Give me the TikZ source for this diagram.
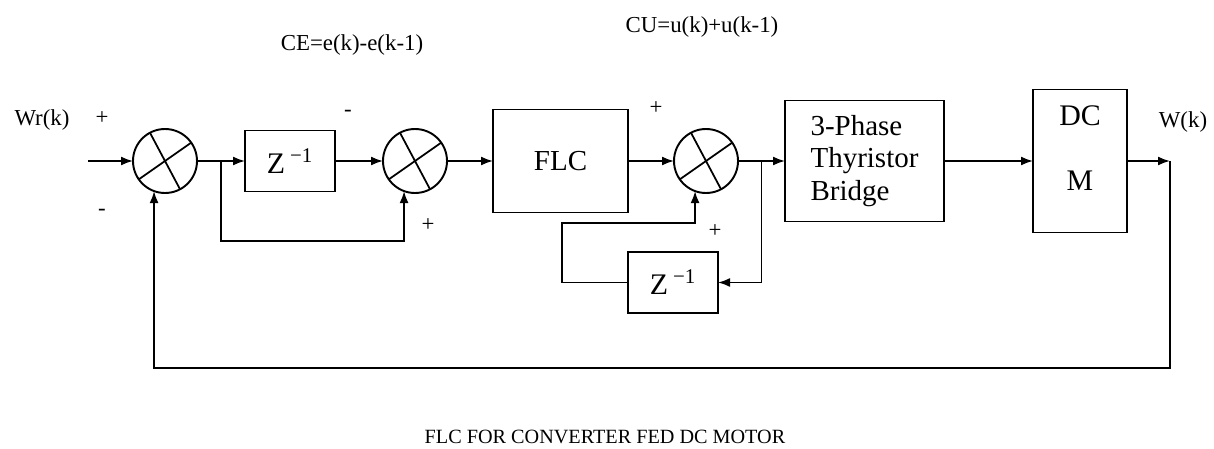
\documentclass[tikz,border=0pt]{standalone}
\usepackage{fontspec}
\setmainfont{Liberation Serif}
\usetikzlibrary{arrows.meta, positioning, calc}

\begin{document}
\begin{tikzpicture}[>={Latex[length=0.24cm,width=0.18cm]}, line width=1pt,
  block/.style={draw, line width=1.1pt, inner sep=0pt, outer sep=0pt,
                font=\fontsize{16.5}{18.5}\selectfont},
  zbox/.style={minimum width=1.8cm, minimum height=1.22cm,
               font=\fontsize{17}{18}\selectfont},
  sumnode/.style={draw, circle, line width=1.1pt, minimum size=1.28cm,
                  inner sep=0pt, outer sep=0pt},
  sign/.style={font=\fontsize{13}{13}\selectfont},
  lbl/.style={font=\fontsize{13}{13}\selectfont}]
  \useasboundingbox (0,0) rectangle (24.28,-8.98);

  % forward path
  \node[sumnode] (s1) at (3.3,-3.22) {};
  \node[block, zbox, right=0.96cm of s1] (z1) {Z\,\textsuperscript{−1}};
  \node[sumnode, right=0.96cm of z1] (s2) {};
  \node[block, minimum width=2.7cm, minimum height=2.06cm,
        right=0.92cm of s2] (flc) {FLC};
  \node[sumnode, right=0.92cm of flc] (s3) {};
  \node[block, minimum width=3.18cm, minimum height=2.42cm, align=left,
        right=0.94cm of s3] (thy) {3-Phase\\Thyristor\\Bridge};
  \node[block, minimum width=1.88cm, minimum height=2.86cm,
        right=1.78cm of thy] (dcm) {};
  \node[align=center, font=\fontsize{17}{19}\selectfont] (dcmtxt)
    at ([yshift=0.26cm]dcm.center) {DC\\[18pt]M};
  \node[block, zbox, below=1.18cm of s3, xshift=-0.66cm] (z2)
    {Z\,\textsuperscript{−1}};

  \foreach \s in {s1,s2,s3} {
    \draw (\s.118) -- (\s.298);
    \draw (\s.35) -- (\s.215);
  }

  \coordinate (in) at (1.76,-3.22);
  \coordinate[right=0.86cm of dcm.east] (out);
  \coordinate (br1) at ($(s1.east)!0.5!(z1.west)$);
  \coordinate (br2) at ($(s3.east)!0.5!(thy.west)$);
  \coordinate (loop1) at (0,-4.82);
  \coordinate (loop2) at (11.24,-4.46);
  \coordinate (fb) at (0,-7.36);

  \draw[->] (in) -- (s1);
  \draw[->] (s1) -- (z1);
  \draw[->] (z1) -- (s2);
  \draw[->] (br1) -- (br1 |- loop1) -| (s2.250);
  \draw[->] (s2) -- (flc);
  \draw[->] (flc) -- (s3);
  \draw[->] (s3) -- (thy);
  \draw[->] (br2) |- (z2.east);
  \draw[->] (z2.west) -| (loop2) -| (s3.250);
  \draw[->] (thy) -- (dcm);
  \draw[->] (dcm) -- (out);
  \draw[->] (out) -- (out |- fb) -| (s1.250);

  % labels
  \node[lbl] (wr) at (0.84,-2.4) {Wr(k)};
  \node[lbl] (wk) at (23.66,-2.44) {W(k)};
  \node[sign] (p1) at (2.04,-2.36) {+};
  \node[sign] (m1) at (2.04,-4.24) {-};
  \node[sign] (m2) at (6.96,-2.26) {-};
  \node[sign] (p2) at (8.56,-4.5) {+};
  \node[sign] (p3) at (13.12,-2.16) {+};
  \node[sign] (p4) at (14.3,-4.62) {+};
  \node[lbl] (ce) at (7.04,-0.9) {CE=e(k)-e(k-1)};
  \node[lbl] (cu) at (14.04,-0.54) {CU=u(k)+u(k-1)};
  \node[font=\fontsize{11.5}{12}\selectfont] (cap) at (12.1,-8.74)
    {FLC FOR CONVERTER FED DC MOTOR};
\end{tikzpicture}
\end{document}
